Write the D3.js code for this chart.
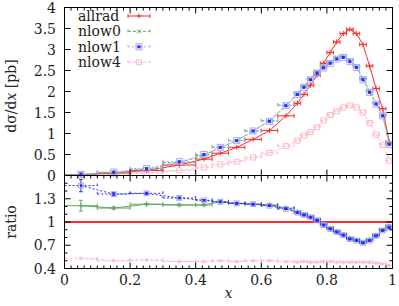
<!DOCTYPE html>
<html>
<head>
<meta charset="utf-8">
<script src="https://cdnjs.cloudflare.com/ajax/libs/d3/7.8.5/d3.min.js"></script>
<style>
body { margin: 0; background: #fff; }
svg { font-family: "DejaVu Serif", serif; font-size: 14px; }
</style>
</head>
<body>
<svg width="399" height="306"></svg>
<script>
// bin centres and half widths
var xc  = [0.05, 0.15, 0.25, 0.35, 0.425, 0.475, 0.525, 0.575, 0.625, 0.675,
           0.71, 0.73, 0.75, 0.77, 0.79, 0.81, 0.83, 0.85, 0.87, 0.89, 0.91, 0.93, 0.95, 0.97, 0.99];
var xhw = [0.05, 0.05, 0.05, 0.05, 0.025, 0.025, 0.025, 0.025, 0.025, 0.025,
           0.01, 0.01, 0.01, 0.01, 0.01, 0.01, 0.01, 0.01, 0.01, 0.01, 0.01, 0.01, 0.01, 0.01, 0.01];

// dsigma/dx [pb]
var allrad = [0.02, 0.06, 0.12, 0.25, 0.39, 0.53, 0.67, 0.86, 1.07, 1.42,
              1.72, 1.93, 2.15, 2.39, 2.67, 2.93, 3.18, 3.38, 3.48, 3.38, 3.12, 2.61, 2.07, 1.59, 0.80];
var nlow0  = [0.024, 0.071, 0.148, 0.305, 0.476, 0.668, 0.831, 1.058, 1.305, 1.676,
              1.944, 2.123, 2.30, 2.46, 2.59, 2.70, 2.80, 2.84, 2.75, 2.60, 2.31, 2.01, 1.72, 1.43, 0.76];
var nlow1  = [0.029, 0.082, 0.164, 0.33, 0.50, 0.67, 0.83, 1.06, 1.29, 1.66,
              1.93, 2.10, 2.28, 2.44, 2.56, 2.67, 2.77, 2.81, 2.71, 2.57, 2.28, 1.98, 1.70, 1.42, 0.74];
var nlow4  = [0.011, 0.03, 0.061, 0.12, 0.19, 0.265, 0.33, 0.43, 0.535, 0.70,
              0.83, 0.95, 1.03, 1.15, 1.31, 1.44, 1.53, 1.62, 1.67, 1.62, 1.50, 1.25, 0.97, 0.73, 0.35];

// ratios to allrad
var r0 = [1.21, 1.18, 1.23, 1.22, 1.22, 1.26, 1.24, 1.23, 1.22, 1.18,
          1.13, 1.10, 1.07, 1.03, 0.97, 0.92, 0.88, 0.84, 0.79, 0.77, 0.74, 0.77, 0.83, 0.90, 0.95];
var r1 = [1.47, 1.36, 1.37, 1.31, 1.28, 1.26, 1.24, 1.23, 1.21, 1.17,
          1.12, 1.09, 1.06, 1.02, 0.96, 0.91, 0.87, 0.83, 0.78, 0.76, 0.73, 0.76, 0.82, 0.89, 0.93];
var r4 = [0.53, 0.50, 0.51, 0.49, 0.49, 0.50, 0.49, 0.50, 0.50, 0.49,
          0.48, 0.49, 0.48, 0.48, 0.49, 0.49, 0.48, 0.48, 0.48, 0.48, 0.48, 0.48, 0.47, 0.46, 0.44];
var r0err = [0.07, 0.015, 0.012, 0.012, 0.01, 0.01, 0.01, 0.01, 0.01, 0.01,
             0.01, 0.01, 0.01, 0.01, 0.01, 0.01, 0.01, 0.01, 0.01, 0.01, 0.01, 0.01, 0.01, 0.01, 0.015];
var r1err = [0.08, 0.02, 0.015, 0.012, 0.01, 0.01, 0.01, 0.01, 0.01, 0.01,
             0.01, 0.01, 0.01, 0.01, 0.01, 0.01, 0.01, 0.01, 0.01, 0.01, 0.01, 0.01, 0.01, 0.01, 0.015];

var seriesNames = ["allrad", "nlow0", "nlow1", "nlow4"];
var yTicksTop = [0, 0.5, 1, 1.5, 2, 2.5, 3, 3.5, 4];
var yTicksRatio = [0.4, 0.7, 1, 1.3];
var xTicks = [0, 0.2, 0.4, 0.6, 0.8, 1];

var svg = d3.select("svg");
var x = d3.scaleLinear().domain([0, 1]).range([64.5, 392.5]);
var yTop = d3.scaleLinear().domain([0, 4]).range([175.5, 7.5]);
var yRat = d3.scaleLinear().domain([0.4, 1.6]).range([268.5, 175.5]);

var colRed = "#ff2a2a", colGreen = "#62a862", colBlue = "#2a2aff", colBlueL = "#a8a8ff", colPink = "#ffbcc4";

function idx(arr) { return arr.map(function(v, i) { return i; }); }

function marker(g, type, px, py, col, col2, sz) {
  sz = sz || 1;
  if (type == "plus") {
    g.append("path").attr("d", "M" + (px - 2.5) + "," + py + "h5M" + px + "," + (py - 2.5) + "v5")
      .attr("stroke", col).attr("fill", "none");
  } else if (type == "cross") {
    g.append("path").attr("d", "M" + (px - 2) + "," + (py - 2) + "l4,4M" + (px - 2) + "," + (py + 2) + "l4,-4")
      .attr("stroke", col).attr("fill", "none");
  } else if (type == "fsq") {
    g.append("rect").attr("x", px - 3 * sz).attr("y", py - 3 * sz).attr("width", 6 * sz).attr("height", 6 * sz)
      .attr("fill", "none").attr("stroke", col2);
    g.append("rect").attr("x", px - 1.5 * sz).attr("y", py - 1.5 * sz).attr("width", 3 * sz).attr("height", 3 * sz).attr("fill", col);
  } else if (type == "osq") {
    g.append("rect").attr("x", px - 2.5).attr("y", py - 2.5).attr("width", 5).attr("height", 5)
      .attr("fill", "none").attr("stroke", col);
  } else if (type == "star") {
    g.append("path").attr("d", "M" + (px - 2) + "," + py + "h4M" + px + "," + (py - 2) + "v4M" +
        (px - 1.5) + "," + (py - 1.5) + "l3,3M" + (px - 1.5) + "," + (py + 1.5) + "l3,-3")
      .attr("stroke", col).attr("fill", "none");
  }
}

function drawSeries(yScale, vals, yerr, st) {
  var g = svg.append("g");
  var line = d3.line()
    .x(function(i) { return x(xc[i]); })
    .y(function(i) { return yScale(vals[i]); });
  g.append("path").datum(idx(vals)).attr("d", line)
    .attr("fill", "none").attr("stroke", st.color).attr("stroke-width", st.width || 1)
    .attr("stroke-dasharray", st.dash || null);
  idx(vals).forEach(function(i) {
    var py = yScale(vals[i]);
    var xa = x(xc[i] - xhw[i]), xb = x(xc[i] + xhw[i]);
    g.append("path")
      .attr("d", "M" + xa + "," + py + "H" + xb + "M" + xa + "," + (py - 2) + "v4M" + xb + "," + (py - 2) + "v4")
      .attr("stroke", st.color).attr("fill", "none").attr("stroke-dasharray", st.dash || null);
    if (yerr) {
      var ya = yScale(vals[i] - yerr[i]), yb = yScale(vals[i] + yerr[i]);
      g.append("path")
        .attr("d", "M" + x(xc[i]) + "," + ya + "V" + yb + "M" + (x(xc[i]) - 2) + "," + ya + "h4M" + (x(xc[i]) - 2) + "," + yb + "h4")
        .attr("stroke", st.color).attr("fill", "none");
    }
    marker(g, st.mark, x(xc[i]), py, st.mcolor || st.color, st.color2, st.sz);
  });
}

// top panel
drawSeries(yTop, nlow4, null, {color: colPink, dash: "3,2", mark: "osq"});
drawSeries(yTop, allrad, null, {color: colRed, mark: "plus"});
drawSeries(yTop, nlow0, null, {color: colGreen, dash: "3,2", mark: "cross"});
drawSeries(yTop, nlow1, null, {color: colBlueL, dash: "2,2", mark: "fsq", mcolor: colBlue, color2: colBlueL});

// ratio panel
svg.append("line").attr("x1", x(0)).attr("x2", x(1)).attr("y1", yRat(1)).attr("y2", yRat(1))
  .attr("stroke", colRed).attr("stroke-width", 2);
drawSeries(yRat, r4, null, {color: colPink, dash: "3,2", mark: "star"});
drawSeries(yRat, r0, r0err, {color: colGreen, mark: "plus"});
drawSeries(yRat, r1, r1err, {color: colBlue, dash: "2,2", mark: "fsq", mcolor: colBlue, color2: colBlueL, sz: 0.8});

// frames
var frame = svg.append("g").attr("stroke", "#000").attr("fill", "none");
frame.append("rect").attr("x", x(0)).attr("y", yTop(4)).attr("width", x(1) - x(0)).attr("height", yTop(0) - yTop(4));
frame.append("rect").attr("x", x(0)).attr("y", yRat(1.6)).attr("width", x(1) - x(0)).attr("height", yRat(0.4) - yRat(1.6));

// x ticks
d3.range(0, 51).forEach(function(k) {
  var v = k / 50, major = k % 10 == 0, len = major ? 6 : 3, px = x(v);
  frame.append("path").attr("d", "M" + px + "," + yRat(0.4) + "v" + (-len));
  frame.append("path").attr("d", "M" + px + "," + yRat(1.6) + "v" + len);
  frame.append("path").attr("d", "M" + px + "," + yTop(4) + "v" + len);
  if (major) frame.append("path").attr("d", "M" + px + "," + yTop(0) + "v" + (-len));
});
// y ticks top
yTicksTop.forEach(function(v) {
  frame.append("path").attr("d", "M" + x(0) + "," + yTop(v) + "h6");
  frame.append("path").attr("d", "M" + x(1) + "," + yTop(v) + "h-6");
});
// y ticks ratio
d3.range(4, 17).forEach(function(k) {
  var v = k / 10, major = (k - 4) % 3 == 0, len = major ? 6 : 3;
  frame.append("path").attr("d", "M" + x(0) + "," + yRat(v) + "h" + len);
  frame.append("path").attr("d", "M" + x(1) + "," + yRat(v) + "h" + (-len));
});

// labels
var lab = svg.append("g").attr("fill", "#222");
yTicksTop.forEach(function(v) {
  lab.append("text").attr("x", 56).attr("y", yTop(v) + 5).attr("text-anchor", "end").text(d3.format("~g")(v));
});
yTicksRatio.forEach(function(v) {
  lab.append("text").attr("x", 56).attr("y", yRat(v) + 5).attr("text-anchor", "end").text(d3.format("~g")(v));
});
xTicks.forEach(function(v) {
  lab.append("text").attr("x", x(v)).attr("y", 285).attr("text-anchor", "middle").text(d3.format("~g")(v));
});
lab.append("text").attr("x", x(0.5)).attr("y", 298).attr("text-anchor", "middle")
  .attr("font-style", "italic").text("x");
var yl = lab.append("text").attr("transform", "translate(16,96) rotate(-90)").attr("text-anchor", "middle");
yl.append("tspan").text("dσ/d");
yl.append("tspan").attr("font-style", "italic").text("x");
yl.append("tspan").text(" [pb]");
lab.append("text").attr("transform", "translate(16,222) rotate(-90)").attr("text-anchor", "middle").text("ratio");

// legend
var legStyles = [
  {color: colRed, mark: "plus"},
  {color: colGreen, dash: "3,2", mark: "cross"},
  {color: colBlueL, dash: "2,2", mark: "fsq", mcolor: colBlue, color2: colBlueL},
  {color: colPink, dash: "3,2", mark: "osq"}
];
seriesNames.forEach(function(name, i) {
  var ly = 16 + i * 15.4;
  lab.append("text").attr("x", 78).attr("y", ly + 5).text(name);
  var g = svg.append("g"), st = legStyles[i];
  g.append("path").attr("d", "M128," + ly + "H150M128," + (ly - 2) + "v4M150," + (ly - 2) + "v4")
    .attr("stroke", st.color).attr("fill", "none").attr("stroke-dasharray", st.dash || null);
  marker(g, st.mark, 139, ly, st.mcolor || st.color, st.color2);
});
</script>
</body>
</html>
